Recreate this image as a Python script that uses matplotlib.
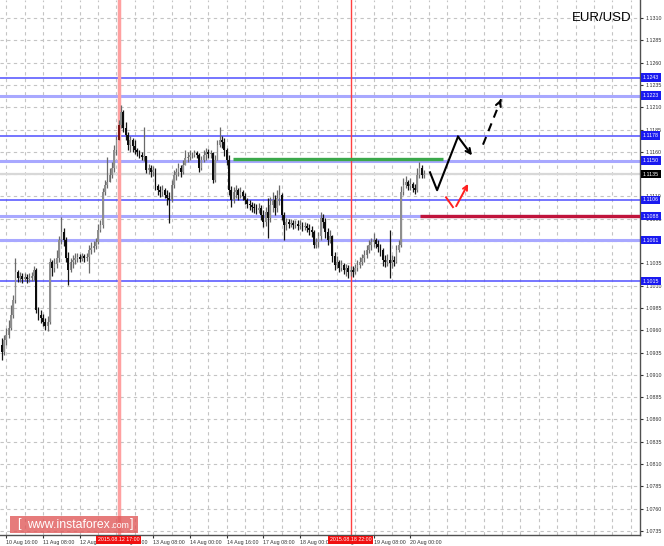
import numpy as np
import matplotlib
matplotlib.use('Agg')
from matplotlib import pyplot as plt
from matplotlib import transforms

# EUR/USD H1 candles, bar 0 = 10 Aug 14:00
first_open = 1.0943
closes = [
    1.0936, 1.0949, 1.0955, 1.0962, 1.0977, 1.0994, 1.1025, 1.1019, 1.1021, 1.1017,
    1.1020, 1.1017, 1.1019, 1.1021, 1.1028, 1.0983, 1.0977, 1.0974, 1.0969, 1.0965,
    1.0969, 1.1037, 1.1030, 1.1034, 1.1041, 1.1061, 1.1070, 1.1061, 1.1041, 1.1028,
    1.1037, 1.1039, 1.1041, 1.1042, 1.1040, 1.1043, 1.1041, 1.1042, 1.1050, 1.1052,
    1.1054, 1.1059, 1.1072, 1.1078, 1.1115, 1.1123, 1.1126, 1.1134, 1.1142, 1.1162,
    1.1173, 1.1190, 1.1205, 1.1187, 1.1179, 1.1168, 1.1173, 1.1167, 1.1162, 1.1160,
    1.1156, 1.1154, 1.1155, 1.1140, 1.1142, 1.1137, 1.1140, 1.1122, 1.1117, 1.1115,
    1.1117, 1.1112, 1.1108, 1.1106, 1.1123, 1.1134, 1.1137, 1.1142, 1.1137, 1.1145,
    1.1153, 1.1154, 1.1156, 1.1156, 1.1159, 1.1156, 1.1142, 1.1151, 1.1156, 1.1160,
    1.1158, 1.1159, 1.1128, 1.1151, 1.1168, 1.1173, 1.1171, 1.1162, 1.1151, 1.1117,
    1.1106, 1.1115, 1.1117, 1.1112, 1.1115, 1.1110, 1.1106, 1.1102, 1.1100, 1.1098,
    1.1097, 1.1095, 1.1097, 1.1089, 1.1081, 1.1093, 1.1086, 1.1100, 1.1106, 1.1097,
    1.1108, 1.1112, 1.1089, 1.1078, 1.1081, 1.1079, 1.1080, 1.1078, 1.1079, 1.1077,
    1.1078, 1.1076, 1.1077, 1.1075, 1.1072, 1.1070, 1.1056, 1.1059, 1.1066, 1.1086,
    1.1081, 1.1070, 1.1061, 1.1066, 1.1043, 1.1033, 1.1037, 1.1030, 1.1033, 1.1028,
    1.1030, 1.1025, 1.1028, 1.1025, 1.1030, 1.1033, 1.1037, 1.1041, 1.1044, 1.1050,
    1.1056, 1.1059, 1.1061, 1.1057, 1.1053, 1.1050, 1.1039, 1.1037, 1.1039, 1.1035,
    1.1039, 1.1037, 1.1050, 1.1056, 1.1115, 1.1123, 1.1126, 1.1122, 1.1124, 1.1119,
    1.1117, 1.1134, 1.1142, 1.1134, 1.1135,
]
highs = [
    1.0951, 1.0955, 1.0962, 1.0971, 1.0988, 1.1000, 1.1041, 1.1028, 1.1025, 1.1024,
    1.1024, 1.1023, 1.1024, 1.1025, 1.1032, 1.1030, 1.0986, 1.0983, 1.0978, 1.0974,
    1.0976, 1.1041, 1.1039, 1.1041, 1.1050, 1.1066, 1.1087, 1.1075, 1.1065, 1.1048,
    1.1041, 1.1044, 1.1047, 1.1047, 1.1045, 1.1047, 1.1045, 1.1047, 1.1056, 1.1059,
    1.1060, 1.1063, 1.1079, 1.1084, 1.1119, 1.1128, 1.1154, 1.1142, 1.1149, 1.1168,
    1.1178, 1.1196, 1.1212, 1.1207, 1.1193, 1.1182, 1.1178, 1.1175, 1.1173, 1.1164,
    1.1162, 1.1160, 1.1188, 1.1155, 1.1146, 1.1145, 1.1144, 1.1142, 1.1124, 1.1122,
    1.1123, 1.1119, 1.1117, 1.1115, 1.1128, 1.1140, 1.1142, 1.1147, 1.1145, 1.1151,
    1.1162, 1.1160, 1.1162, 1.1160, 1.1162, 1.1161, 1.1159, 1.1155, 1.1162, 1.1164,
    1.1163, 1.1162, 1.1160, 1.1156, 1.1173, 1.1188, 1.1178, 1.1175, 1.1164, 1.1156,
    1.1122, 1.1121, 1.1123, 1.1119, 1.1121, 1.1117, 1.1114, 1.1108, 1.1106, 1.1104,
    1.1103, 1.1102, 1.1103, 1.1100, 1.1095, 1.1098, 1.1108, 1.1109, 1.1115, 1.1112,
    1.1117, 1.1123, 1.1114, 1.1093, 1.1086, 1.1085, 1.1085, 1.1084, 1.1084, 1.1083,
    1.1083, 1.1081, 1.1081, 1.1080, 1.1079, 1.1077, 1.1072, 1.1063, 1.1070, 1.1093,
    1.1090, 1.1086, 1.1075, 1.1072, 1.1067, 1.1048, 1.1043, 1.1039, 1.1039, 1.1035,
    1.1034, 1.1033, 1.1032, 1.1032, 1.1034, 1.1039, 1.1042, 1.1045, 1.1050, 1.1056,
    1.1061, 1.1063, 1.1069, 1.1063, 1.1061, 1.1057, 1.1052, 1.1044, 1.1045, 1.1072,
    1.1044, 1.1043, 1.1056, 1.1061, 1.1122, 1.1131, 1.1133, 1.1128, 1.1131, 1.1126,
    1.1124, 1.1142, 1.1149, 1.1145, 1.1140,
]
lows = [
    1.0927, 1.0932, 1.0943, 1.0951, 1.0960, 1.0974, 1.0991, 1.1014, 1.1014, 1.1013,
    1.1015, 1.1013, 1.1014, 1.1015, 1.1016, 1.0979, 1.0971, 1.0968, 1.0965, 1.0960,
    1.0959, 1.0967, 1.1021, 1.1025, 1.1030, 1.1037, 1.1057, 1.1054, 1.1037, 1.1011,
    1.1025, 1.1030, 1.1034, 1.1037, 1.1037, 1.1038, 1.1037, 1.1038, 1.1024, 1.1045,
    1.1048, 1.1051, 1.1057, 1.1070, 1.1075, 1.1112, 1.1119, 1.1126, 1.1131, 1.1137,
    1.1156, 1.1173, 1.1187, 1.1182, 1.1173, 1.1162, 1.1160, 1.1160, 1.1158, 1.1155,
    1.1153, 1.1151, 1.1150, 1.1136, 1.1135, 1.1132, 1.1133, 1.1117, 1.1112, 1.1109,
    1.1110, 1.1108, 1.1100, 1.1080, 1.1104, 1.1119, 1.1128, 1.1133, 1.1132, 1.1135,
    1.1145, 1.1149, 1.1151, 1.1153, 1.1154, 1.1153, 1.1137, 1.1140, 1.1149, 1.1151,
    1.1153, 1.1153, 1.1125, 1.1126, 1.1153, 1.1165, 1.1164, 1.1155, 1.1145, 1.1112,
    1.1098, 1.1103, 1.1108, 1.1106, 1.1108, 1.1106, 1.1102, 1.1097, 1.1095, 1.1093,
    1.1091, 1.1090, 1.1091, 1.1084, 1.1076, 1.1077, 1.1063, 1.1081, 1.1093, 1.1089,
    1.1093, 1.1100, 1.1084, 1.1061, 1.1072, 1.1075, 1.1076, 1.1074, 1.1075, 1.1072,
    1.1074, 1.1071, 1.1072, 1.1070, 1.1067, 1.1065, 1.1052, 1.1052, 1.1053, 1.1061,
    1.1075, 1.1063, 1.1056, 1.1058, 1.1037, 1.1028, 1.1030, 1.1025, 1.1026, 1.1023,
    1.1021, 1.1019, 1.1021, 1.1020, 1.1023, 1.1026, 1.1030, 1.1033, 1.1037, 1.1041,
    1.1047, 1.1050, 1.1053, 1.1052, 1.1048, 1.1043, 1.1032, 1.1031, 1.1032, 1.1019,
    1.1030, 1.1032, 1.1035, 1.1048, 1.1053, 1.1112, 1.1119, 1.1117, 1.1117, 1.1115,
    1.1113, 1.1115, 1.1131, 1.1131, 1.1131,
]

time_label_bars = [2, 18, 34, 50, 66, 82, 98, 114, 130, 146, 162, 178]
time_labels = ['10 Aug 16:00', '11 Aug 08:00', '12 Aug 00:00', '12 Aug 16:00',
               '13 Aug 08:00', '14 Aug 00:00', '14 Aug 16:00', '17 Aug 08:00',
               '18 Aug 00:00', '18 Aug 16:00', '19 Aug 08:00', '20 Aug 00:00']
marker_bars = [51, 152]
marker_labels = ['2015.08.12 17:00', '2015.08.18 22:00']

price_ticks = [1.0735, 1.0760, 1.0785, 1.0810, 1.0835, 1.0860, 1.0885, 1.0910,
               1.0935, 1.0960, 1.0985, 1.1010, 1.1035, 1.1060, 1.1085, 1.1110,
               1.1135, 1.1160, 1.1185, 1.1210, 1.1235, 1.1260, 1.1285, 1.1310]
hidden_ticks = [1.1060, 1.1135]   # fully covered by level boxes
levels = [1.1243, 1.1223, 1.1178, 1.1150, 1.1106, 1.1088, 1.1061, 1.1015]
light_levels = [1.1223, 1.1150, 1.1088, 1.1061]
last_price = 1.1135

green_level = 1.1152
green_span = (100.8, 192.3)
red_level = 1.1088
red_start = 182.3

# forecast sketches (bar, price)
main_path_x = [186.6, 189.7, 198.8, 204.9]
main_path_y = [1.1137, 1.1117, 1.1177, 1.1156]
dash_path_x = [209.7, 217.6]
dash_path_y = [1.1168, 1.1219]
alt_path_x = [193.6, 196.6, 198.0, 203.2]
alt_path_y = [1.1109, 1.1098, 1.1099, 1.1124]

plt.rcParams['font.family'] = ['Liberation Sans', 'DejaVu Sans']

fig = plt.figure(figsize=(6.64, 5.46), dpi=100)
ax = fig.add_axes([0, 11 / 546, 640 / 664, 535 / 546])
ax.set_xlim(-0.74, 278.1)
ax.set_ylim(1.07304, 1.13302)

# grid
grid_bars = np.arange(2, 279, 8)
for gx in grid_bars:
    ax.axvline(gx, color='#c4c4c4', lw=0.8, ls=(0, (3, 3)), zorder=0)
for gy in price_ticks:
    ax.axhline(gy, color='#c4c4c4', lw=0.8, ls=(0, (3, 3)), zorder=0)

# level lines
for lv in levels:
    if lv in light_levels:
        ax.axhline(lv, color='#a8a8ff', lw=2.2, zorder=1)
    else:
        ax.axhline(lv, color='#5050ff', lw=1.1, zorder=1)
ax.axhline(last_price, color='#d8d8d8', lw=1.6, zorder=1)

# vertical markers
ax.axvline(marker_bars[0], color='#ffa0a0', lw=2.5, zorder=1)
ax.axvline(marker_bars[1], color='#ff4040', lw=1.0, zorder=1)

# candles
c = np.array(closes)
o = np.concatenate([[first_open], c[:-1]])
h = np.maximum(np.array(highs), np.maximum(o, c))
l = np.minimum(np.array(lows), np.minimum(o, c))
idx = np.arange(len(c))
bull = c >= o
wick_col = np.where(bull, '#6a6a6a', '#151515')
ax.vlines(idx, l, h, colors=wick_col, lw=0.9, zorder=3)
body_bottom = np.minimum(o, c)
body_h = np.maximum(np.abs(c - o), 0.00008)
body_col = np.where(bull, '#8e8e8e', '#0c0c0c').astype(object)
body_col[marker_bars[0]] = '#7a1010'
ax.bar(idx, body_h, bottom=body_bottom, width=0.75, color=list(body_col), lw=0, zorder=4)

# support / resistance segments
ax.hlines(green_level, green_span[0], green_span[1], color='#3aa84a', lw=2.4, zorder=5)
ax.hlines(red_level, red_start, 278.1, color='#c0143c', lw=2.4, zorder=5)

# forecast sketches
ax.plot(main_path_x[:-1], main_path_y[:-1], color='black', lw=1.5, zorder=6)
ax.annotate('', xy=(main_path_x[-1], main_path_y[-1]),
            xytext=(main_path_x[-2], main_path_y[-2]),
            arrowprops=dict(arrowstyle='->', color='black', lw=1.5,
                            mutation_scale=9, shrinkA=0, shrinkB=0), zorder=6)
ax.plot(dash_path_x, dash_path_y, color='black', lw=1.5, ls=(0, (4, 3)), zorder=6)
ax.annotate('', xy=(dash_path_x[-1], dash_path_y[-1]),
            xytext=(dash_path_x[-1] - 0.8, dash_path_y[-1] - 0.0005),
            arrowprops=dict(arrowstyle='->', color='black', lw=1.5,
                            mutation_scale=9, shrinkA=0, shrinkB=0), zorder=6)
ax.plot(alt_path_x[:2], alt_path_y[:2], color='#ff2020', lw=1.4, zorder=6)
ax.annotate('', xy=(alt_path_x[3], alt_path_y[3]),
            xytext=(alt_path_x[2], alt_path_y[2]),
            arrowprops=dict(arrowstyle='->', color='#ff2020', lw=1.4,
                            mutation_scale=8, shrinkA=0, shrinkB=0), zorder=6)

# axes styling
for side in ['left', 'top']:
    ax.spines[side].set_visible(False)
for side in ['right', 'bottom']:
    ax.spines[side].set_color('#505050')
    ax.spines[side].set_linewidth(1.0)

ax.yaxis.tick_right()
ax.set_yticks(price_ticks)
ax.set_yticklabels(['' if p in hidden_ticks else f'{p:.4f}' for p in price_ticks])
ax.tick_params(axis='y', labelsize=3.8, pad=2, length=2, colors='#303030')
ax.set_xticks(time_label_bars)
ax.set_xticklabels(time_labels)
ax.tick_params(axis='x', labelsize=3.8, pad=1.5, length=2, colors='#303030')
for lab in ax.get_xticklabels():
    lab.set_ha('left')

# right side price boxes
ytrans = transforms.blended_transform_factory(ax.transAxes, ax.transData)
for lv in levels:
    ax.text(1.004, lv, f'{lv:.4f}', transform=ytrans, fontsize=3.8, color='white',
            va='center', ha='left', zorder=10, clip_on=False,
            bbox=dict(boxstyle='square,pad=0.35', fc='#1a1af0', ec='none'))
ax.text(1.004, last_price, f'{last_price:.4f}', transform=ytrans, fontsize=3.8,
        color='white', va='center', ha='left', zorder=10, clip_on=False,
        bbox=dict(boxstyle='square,pad=0.35', fc='black', ec='none'))

# time marker boxes
xtrans = transforms.blended_transform_factory(ax.transData, ax.transAxes)
for mb, ml in zip(marker_bars, marker_labels):
    ax.text(mb, -0.004, ml, transform=xtrans, fontsize=3.8, color='white',
            va='top', ha='center', zorder=10, clip_on=False,
            bbox=dict(boxstyle='square,pad=0.3', fc='#f01010', ec='none'))

ax.text(0.987, 0.967, 'EUR/USD', transform=ax.transAxes, fontsize=9.5,
        ha='right', va='center', color='black')

# watermark
fig.patches.append(plt.Rectangle((10 / 664, 13 / 546), 128 / 664, 17 / 546,
                                 transform=fig.transFigure, fc='#e05a5a',
                                 alpha=0.8, ec='none', zorder=20))
fig.text(17 / 664, 21.5 / 546, '[', fontsize=9, color='white', va='center', zorder=21)
fig.text(27 / 664, 21.5 / 546, 'www.instaforex', fontsize=8.8, color='white',
         va='center', zorder=21)
fig.text(110 / 664, 20.5 / 546, '.com', fontsize=6.3, color='white', va='center', zorder=21)
fig.text(130 / 664, 21.5 / 546, ']', fontsize=9, color='white', va='center', zorder=21)

fig.savefig('out.png', dpi=100)
